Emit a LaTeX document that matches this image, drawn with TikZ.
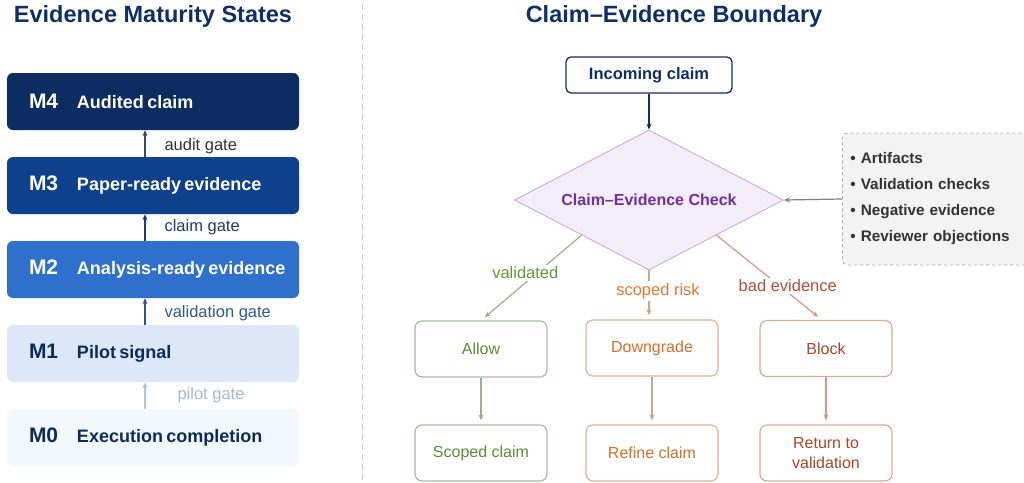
\documentclass[tikz,border=0pt]{standalone}
\usepackage{fontspec}
\setmainfont{Liberation Sans}
\usepackage{tikz}
\usetikzlibrary{
  positioning,
  arrows.meta,
  shapes.geometric,
  calc
}
\definecolor{TitleNavy}{RGB}{16,45,100}
\definecolor{StageFour}{RGB}{12,44,98}
\definecolor{StageThree}{RGB}{14,64,140}
\definecolor{StageTwo}{RGB}{46,112,204}
\definecolor{StageOne}{RGB}{220,232,248}
\definecolor{StageZero}{RGB}{243,248,254}
\definecolor{StageInk}{RGB}{14,42,90}
\definecolor{SepGray}{RGB}{200,200,200}
\definecolor{CheckFill}{RGB}{242,237,248}
\definecolor{CheckBorder}{RGB}{200,165,222}
\definecolor{CheckInk}{RGB}{112,48,160}
\definecolor{SourceFill}{RGB}{243,243,243}
\definecolor{SourceBorder}{RGB}{170,170,170}
\definecolor{AllowBorder}{RGB}{168,188,158}
\definecolor{AllowInk}{RGB}{92,140,58}
\definecolor{AllowEdge}{RGB}{155,176,140}
\definecolor{DownBorder}{RGB}{226,178,145}
\definecolor{DownInk}{RGB}{216,110,42}
\definecolor{DownEdge}{RGB}{204,164,144}
\definecolor{BlockBorder}{RGB}{216,172,152}
\definecolor{BlockInk}{RGB}{166,70,45}
\definecolor{BlockEdge}{RGB}{212,152,132}
\newcommand{\stagetext}[2]{\hspace*{22pt}\makebox[48pt][l]{\fontsize{21}{24}\selectfont #1}\fontsize{18}{21}\selectfont #2}
\tikzset{
  % Section title
  ptitle/.style={
    font=\fontsize{23.5}{28}\selectfont\bfseries,
    text=TitleNavy
  },
  % Maturity stage box
  stage/.style={
    rectangle,
    rounded corners=6pt,
    minimum width=292pt,
    minimum height=57pt,
    text width=292pt,
    inner xsep=0pt,
    align=left,
    font=\bfseries
  },
  % Gate arrow between stages
  gate/.style={
    line width=1.6pt,
    -{Stealth[length=6pt,width=5pt]}
  },
  % Gate label
  gatelabel/.style={
    anchor=west,
    font=\fontsize{16.5}{19}\selectfont
  },
  % Outcome box
  outbox/.style={
    rectangle,
    rounded corners=7pt,
    line width=1.2pt,
    fill=white,
    minimum width=132pt,
    minimum height=56pt,
    align=center,
    font=\fontsize{16}{20}\selectfont
  },
  % Flow edge
  flow/.style={
    line width=1.2pt,
    -{Stealth[length=6pt,width=5pt]}
  },
  % Branch label
  blabel/.style={
    fill=white,
    inner sep=2pt,
    font=\fontsize{16.5}{19}\selectfont
  }
}

\begin{document}
\begin{tikzpicture}[x=1pt,y=-1pt]
  \useasboundingbox (0,0) rectangle (1024,482);

  % titles and separator
  \node[ptitle] (tl) at (153,16) {Evidence Maturity States};
  \node[ptitle] (tr) at (674,16) {Claim--Evidence Boundary};
  \draw[SepGray, line width=1pt, dash pattern=on 6pt off 4pt] (362,4) -- (362,482);

  % maturity ladder
  \node[stage, fill=StageFour, text=white]     (m4) at (153,101.5) {\stagetext{M4}{Audited claim}};
  \node[stage, fill=StageThree, text=white]    (m3) at (153,185.5) {\stagetext{M3}{Paper-ready evidence}};
  \node[stage, fill=StageTwo, text=white]      (m2) at (153,269.5) {\stagetext{M2}{Analysis-ready evidence}};
  \node[stage, fill=StageOne, text=StageInk]   (m1) at (153,353.5) {\stagetext{M1}{Pilot signal}};
  \node[stage, fill=StageZero, text=StageInk]  (m0) at (153,437.5) {\stagetext{M0}{Execution completion}};

  \coordinate (gx) at (145,0);
  \draw[gate, draw={rgb,255:red,58;green,72;blue,96}]  (gx |- m3.north) -- (gx |- m4.south);
  \draw[gate, draw={rgb,255:red,30;green,60;blue,115}] (gx |- m2.north) -- (gx |- m3.south);
  \draw[gate, draw={rgb,255:red,47;green,84;blue,150}] (gx |- m1.north) -- (gx |- m2.south);
  \draw[gate, draw={rgb,255:red,175;green,197;blue,230}] (gx |- m0.north) -- (gx |- m1.south);

  \node[gatelabel, text={rgb,255:red,51;green,51;blue,51}]    (ga) at (161,146) {audit gate};
  \node[gatelabel, text={rgb,255:red,36;green,58;blue,100}]   (gc) at (161,227) {claim gate};
  \node[gatelabel, text={rgb,255:red,50;green,85;blue,150}]   (gv) at (161,313) {validation gate};
  \node[gatelabel, text={rgb,255:red,165;green,185;blue,215}] (gp) at (174,395) {pilot gate};

  % claim-evidence boundary
  \node[rectangle, rounded corners=5pt, draw=TitleNavy, line width=1.3pt, fill=white,
        minimum width=166pt, minimum height=36pt, text=TitleNavy,
        font=\fontsize{16.5}{19}\selectfont\bfseries] (inc) at (649,75) {Incoming claim};
  \node[diamond, aspect=1.92, draw=CheckBorder, fill=CheckFill, line width=0.8pt,
        minimum width=269pt, minimum height=140pt, inner sep=0pt, text=CheckInk,
        font=\fontsize{16}{19}\selectfont\bfseries] (chk) at (649,200) {Claim--Evidence Check};
  \draw[flow, draw=TitleNavy] (inc) -- (chk.north);

  \node[rectangle, rounded corners=5pt, draw=SourceBorder, fill=SourceFill, dashed,
        line width=0.8pt, minimum width=190pt, minimum height=132pt, anchor=west,
        text width=174pt, inner xsep=8pt, align=left,
        text={rgb,255:red,51;green,51;blue,51},
        font=\fontsize{15.3}{26}\selectfont\bfseries] (src) at (842,199)
        {\textbullet\ Artifacts\\ \textbullet\ Validation checks\\ \textbullet\ Negative evidence\\ \textbullet\ Reviewer objections};
  \draw[flow, draw={rgb,255:red,128;green,128;blue,128}] (src.west) -- (chk.east);

  % outcomes
  \node[outbox, draw=AllowBorder, text=AllowInk] (allow) at (481,349) {Allow};
  \node[outbox, draw=DownBorder, text=DownInk]   (down)  at (652,348) {Downgrade};
  \node[outbox, draw=BlockBorder, text=BlockInk] (block) at (826,348.5) {Block};
  \node[outbox, draw=AllowBorder, text=AllowInk] (scoped) at (481,453) {Scoped claim};
  \node[outbox, draw=DownBorder, text=DownInk]   (refine) at (652,453) {Refine claim};
  \node[outbox, draw=BlockBorder, text=BlockInk] (ret)    at (826,453) {Return to\\validation};

  \draw[flow, draw=AllowEdge, shorten >=5pt] (chk.south west) -- node[blabel, pos=0.44, xshift=-12pt, text={rgb,255:red,100;green,150;blue,60}] (lv) {validated} (allow.north);
  \draw[flow, draw=DownEdge, shorten >=4pt] (chk.south) -- node[blabel, pos=0.42, xshift=9pt, text={rgb,255:red,225;green,120;blue,50}] (ls) {scoped risk} (chk.south |- down.north);
  \draw[flow, draw=BlockEdge, shorten >=5pt] (chk.south east) -- node[blabel, pos=0.6, xshift=8pt, text={rgb,255:red,180;green,80;blue,55}] (lb) {bad evidence} ([xshift=-4pt]block.north);

  \draw[flow, draw=AllowEdge, shorten >=4pt] (allow) -- (scoped);
  \draw[flow, draw=DownEdge, shorten >=4pt]  (down) -- (refine);
  \draw[flow, draw=BlockEdge, shorten >=4pt] (block) -- (ret);
\end{tikzpicture}
\end{document}
